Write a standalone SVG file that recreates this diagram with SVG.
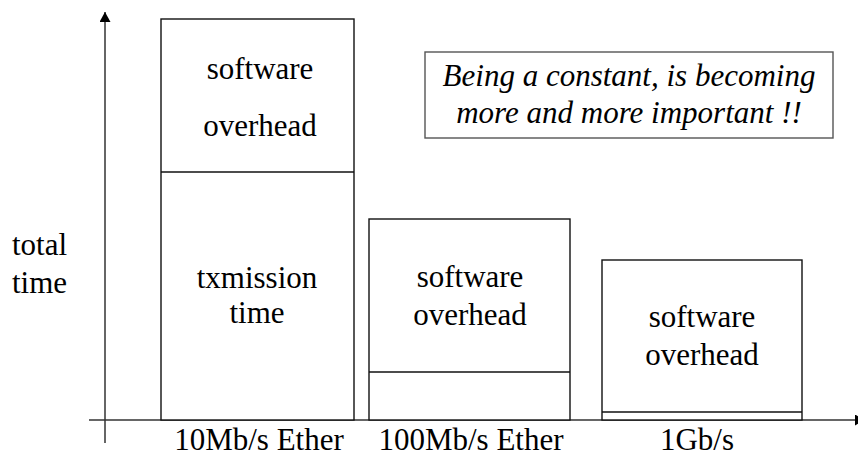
<svg xmlns="http://www.w3.org/2000/svg" width="858" height="457" viewBox="0 0 858 457">
  <style>
    .bar { fill: #fff; stroke: #111; stroke-width: 1.4; }
    .split { stroke: #111; stroke-width: 1.4; fill: none; }
    .axis { stroke: #333; stroke-width: 1.5; fill: none; }
    .mid { text-anchor: middle; }
    .notebox { fill: #fff; stroke: #555; stroke-width: 1.4; }
  </style>
  <defs>
    <marker id="arrow" markerUnits="userSpaceOnUse" markerWidth="11" markerHeight="11" refX="10" refY="5.5" orient="auto">
      <path d="M0,0 L10,5.5 L0,11 Z" fill="#000"/>
    </marker>
  </defs>

  <rect width="858" height="457" fill="#fff"/>

  <!-- axes -->
  <g id="connectors">
    <line class="axis" x1="105" y1="443" x2="105" y2="12" marker-end="url(#arrow)"/>
    <line class="axis" x1="89" y1="420" x2="865" y2="420" marker-end="url(#arrow)"/>
  </g>

  <g font-family="'Liberation Serif', Tinos, 'Times New Roman', Times, serif" font-size="31" fill="#000">
    <!-- y-axis caption -->
    <g id="y-label">
      <text x="12" y="255">total</text>
      <text x="12" y="293">time</text>
    </g>

    <!-- 10Mb/s Ethernet bar -->
    <g id="bar-10mb">
      <rect class="bar" x="161" y="19" width="193" height="401"/>
      <line class="split" x1="161" y1="172" x2="354" y2="172"/>
      <text class="mid" x="260" y="79">software</text>
      <text class="mid" x="260" y="136">overhead</text>
      <text class="mid" x="257" y="288">txmission</text>
      <text class="mid" x="257" y="323">time</text>
      <text class="mid" x="259" y="450">10Mb/s Ether</text>
    </g>

    <!-- 100Mb/s Ethernet bar -->
    <g id="bar-100mb">
      <rect class="bar" x="369" y="219" width="201" height="201"/>
      <line class="split" x1="369" y1="372" x2="570" y2="372"/>
      <text class="mid" x="470" y="287">software</text>
      <text class="mid" x="470" y="325">overhead</text>
      <text class="mid" x="471" y="450">100Mb/s Ether</text>
    </g>

    <!-- 1Gb/s bar -->
    <g id="bar-1gb">
      <rect class="bar" x="602" y="260" width="200" height="160"/>
      <line class="split" x1="602" y1="412" x2="802" y2="412"/>
      <text class="mid" x="702" y="327">software</text>
      <text class="mid" x="702" y="365">overhead</text>
      <text class="mid" x="697" y="450">1Gb/s</text>
    </g>

    <!-- remark -->
    <g id="remark" font-style="italic">
      <rect class="notebox" x="425" y="52" width="408" height="86"/>
      <text class="mid" x="629" y="86">Being a constant, is becoming</text>
      <text class="mid" x="629" y="123">more and more important !!</text>
    </g>
  </g>
</svg>
